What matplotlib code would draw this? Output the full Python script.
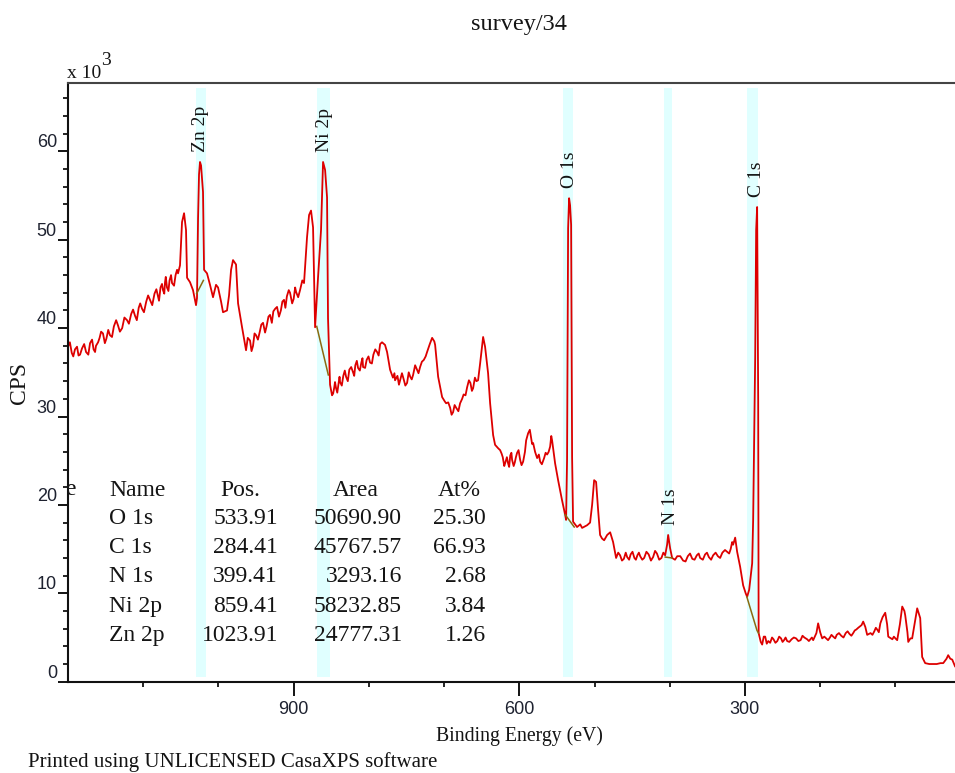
import matplotlib
matplotlib.use("Agg")
import matplotlib.pyplot as plt
from matplotlib.ticker import FixedLocator, MultipleLocator
import numpy as np

W, H = 955, 773

# ---------------- data ----------------
binding_energy = [
    1200, 1195, 1190.7, 1186, 1181.4, 1176, 1170.7, 1166, 1162.8, 1158, 1153.5, 1149, 1144.2, 1139,
    1133.5, 1128, 1121.5, 1116, 1110.9, 1106, 1101.6, 1096, 1091.0, 1085, 1080.3, 1077, 1073.7, 1071,
    1068.4, 1065, 1061.7, 1057, 1053.7, 1051.1, 1048.4, 1045.7, 1043.1, 1041.7, 1037.8, 1033.8, 1029.8,
    1028.5, 1027.1, 1025.8, 1024.5, 1023.1, 1020.5, 1019.1, 1015.2, 1011.2, 1007.2, 1003.2, 1000.5,
    996.5, 993.9, 988.6, 985.9, 983.2, 980.6, 976.6, 973.9, 968.6, 963.3, 958.0, 954, 950.0, 945,
    940.7, 936, 931.4, 927, 922.1, 917, 912.8, 909, 904.8, 900, 896.8, 891.5, 886.2, 882.2, 879.5,
    876.9, 874.2, 871.5, 867.6, 863.6, 860.9, 858.2, 855.6, 854.3, 851.6, 849.0, 846, 843.6, 840,
    838.3, 834, 830.3, 826, 821.0, 818, 814.4, 810, 807.7, 803, 798.4, 794, 789.1, 785, 782.5, 778.5,
    775.8, 771.8, 768, 765.2, 762, 758.5, 754, 749.2, 745, 741.2, 736, 731.9, 727, 722.6, 719, 715.9,
    713, 711.9, 707.9, 702.6, 699, 697.3, 692.0, 688.0, 684, 678.7, 674, 669.4, 665, 661.4, 657,
    654.8, 652.1, 648.1, 645.5, 641.5, 638.8, 634.8, 632.2, 628, 625.5, 622, 618.9, 614.9, 612,
    609.6, 606, 602.9, 598.9, 594.9, 590.9, 588.3, 584.3, 581.6, 576.3, 572.3, 567.0, 563.0, 559.0,
    556.4, 552.4, 548.4, 543.1, 539.1, 537.8, 536.5, 535.1, 533.8, 532.5, 531.1, 529.8, 528.5, 523.2,
    519, 516.5, 512, 509.9, 505.9, 503.2, 500.5, 497.9, 495.2, 492.6, 490, 487.2, 483.2, 479.2,
    475.3, 471.3, 466, 461, 456.6, 452, 447, 443, 439.3, 434, 428, 422.1, 417, 411, 406.1, 403.5,
    402.1, 399.5, 396.8, 390, 382.2, 376, 370, 364, 359.6, 353, 348, 342.3, 336, 330, 323.7, 319,
    315.7, 313.0, 310.4, 306.4, 302.4, 299, 297.1, 294.4, 290.4, 289.1, 286.4, 285.1, 283.8, 282.4,
    281.8, 279, 277.1, 275, 273.1, 269, 266.5, 262, 257, 252, 248, 243.9, 238, 232, 226, 221, 217.3,
    213, 209.3, 205, 202.7, 200, 197.3, 192, 187, 182.7, 178, 172, 166, 161, 156.1, 152, 149.4, 145,
    142.8, 140, 137.5, 133, 128, 124.2, 120, 117, 113.5, 111, 109.5, 104, 100, 97.6, 94, 90.9, 88,
    86.9, 84, 82.9, 80, 77.7, 74, 71.0, 68.5, 67.0, 64.4, 60.4, 55, 49.7, 45, 40, 36.4, 32, 29.8,
    27, 24.4, 20.5, 15, 11.2, 5, 0,
]
cps_k = [
    37.9, 37.2, 37.6, 36.9, 37.7, 37.3, 38.3, 37.6, 38.0, 38.9, 39.4, 38.8, 39.2, 40.2,
    40.3, 40.0, 40.9, 41.6, 41.4, 42.3, 42.2, 43.0, 43.2, 43.9, 43.6, 44.6, 44.3, 45.2,
    44.6, 45.4, 45.1, 46.0, 46.2, 47.1, 52.0, 53.0, 51.1, 45.7, 45.2, 44.3, 42.6,
    43.4, 52.4, 57.4, 58.8, 58.4, 55.4, 46.6, 46.2, 44.9, 43.5, 44.9, 44.6,
    43.0, 41.8, 42.0, 43.7, 46.6, 47.7, 47.2, 42.8, 40.1, 37.5, 38.6, 38.0, 39.2, 39.6,
    40.6, 40.2, 41.5, 41.9, 42.4, 42.0, 43.2, 43.6, 44.0, 43.3, 44.1, 44.3, 45.1, 50.3, 52.8,
    53.3, 51.4, 40.1, 45.7, 51.1, 58.8, 57.9, 54.8, 41.1, 33.6, 32.4, 33.3, 33.2, 33.9,
    33.9, 34.6, 34.5, 35.3, 35.0, 35.8, 35.5, 36.1, 35.6, 36.4, 36.1, 37.0, 37.3, 38.2, 38.4, 38.1,
    37.3, 35.3, 34.4, 34.1, 34.6, 34.1, 34.3, 33.8, 34.5, 34.7, 35.3, 35.6, 36.4, 37.3, 38.2, 38.9,
    38.5, 38.1, 34.5, 32.2, 31.7, 31.5, 31.0, 30.5, 31.0, 31.5, 32.5, 33.3, 33.8, 33.2, 34.0,
    34.1, 36.0, 39.0, 37.9, 34.9, 31.5, 27.9, 26.8, 26.4, 26.2, 25.4, 24.7, 24.7, 25.6,
    25.1, 24.8, 25.9, 25.1, 24.9, 27.3, 28.1, 27.6, 27.0, 25.3, 24.9, 25.3, 25.7, 26.6,
    27.3, 24.7, 22.8, 20.5, 18.9, 18.3, 25.1, 51.3, 54.7, 53.9, 51.7, 25.4, 18.1, 17.5,
    17.8, 17.4, 17.6, 17.7, 18.0, 20.0, 22.8, 22.6, 19.4, 16.6, 16.2, 16.0, 16.6, 16.9,
    15.8, 14.0, 14.3, 13.9, 14.1, 14.4, 14.0, 14.3, 14.2, 14.0, 14.4, 14.1, 14.5, 14.0, 14.3, 15.5,
    16.6, 15.1, 14.0, 14.2, 13.7, 14.2, 13.9, 14.3, 14.0, 14.4, 14.1, 14.3, 14.2, 14.6, 14.7, 15.0,
    15.5, 16.3, 14.7, 13.0, 10.9, 10.0, 9.6, 10.4, 13.4, 18.3, 36.6, 51.1, 53.7, 31.9,
    5.5, 4.5, 4.2, 5.1, 5.1, 4.6, 4.4, 4.8, 4.6, 4.9, 4.7, 4.6, 4.8, 4.9, 4.7, 5.0, 4.8,
    4.8, 4.7, 5.5, 6.6, 5.6, 4.9, 4.9, 5.0, 5.1, 5.3, 5.2, 5.5, 5.4, 5.5, 5.9, 6.1, 6.4,
    6.8, 6.2, 5.3, 5.5, 5.7, 5.9, 6.6, 7.3, 7.8, 6.5, 5.1, 4.8, 4.9, 4.7, 6.5, 8.5, 8.0,
    7.5, 5.6, 4.5, 4.9, 4.9, 6.8, 8.3, 7.6, 7.2, 2.8, 2.1, 2.0, 2.0, 2.0, 2.1, 2.1, 2.6, 3.0,
    2.6, 2.5, 1.7, 1.8, 1.8, 1.8, 1.8,
]

detail_be = [
    1197.5, 1193, 1188, 1184, 1178.5, 1173, 1168, 1164, 1160, 1156, 1151, 1146.5, 1141.5, 1136,
    1131, 1125, 1119, 1113.5, 1108.5, 1104, 1099, 1093.5, 1088, 1082.5, 1079, 1075, 1072, 1070,
    1066.5, 1063, 1059, 1055,
    961, 956, 952, 947.5, 943, 938, 933.5, 929, 924.5, 919.5, 915, 911, 906.5, 902, 898, 894, 888.5,
    847.5, 845, 842, 839, 836, 832, 828, 823.5, 819.5, 816, 812, 808.5, 805, 800.5, 796, 791.5, 787,
    766, 760, 756, 751.5, 747, 743, 738.5, 734, 729.5, 724.5,
    694.5, 690, 686, 681, 676, 671.5, 667, 663, 659,
    623.5, 620, 616.5, 613.5, 610.5, 607.5, 604.5, 601, 597, 592.5, 586, 583, 579, 574, 570, 565,
    561, 557.5,
    468.5, 463.5, 458.5, 454, 449.5, 445, 441, 436.5, 431, 425, 419.5, 414, 408.5, 393, 386, 379,
    373, 367, 361.5, 356, 350.5, 345, 339, 333, 326.5, 321, 317,
    271, 264, 259.5, 254.5, 250, 246, 241, 235, 229, 223.5, 215, 211, 194.5, 189.5, 185, 180, 175,
    169, 163.5, 158.5, 154, 130.5, 126, 122, 102,
]
detail_cps_k = [
    38.4, 36.8, 37.9, 37.0, 38.2, 37.0, 38.7, 37.3, 38.4, 39.6, 38.3, 39.8, 39.0, 40.9,
    39.6, 41.2, 40.5, 42.1, 40.9, 42.8, 41.8, 43.7, 42.6, 44.4, 43.1, 45.0, 43.9, 45.8,
    44.2, 46.0, 44.8, 46.6,
    38.9, 37.4, 39.4, 38.7, 40.4, 39.5, 41.3, 40.6, 42.2, 41.3, 43.0, 42.3, 44.3, 42.8, 44.6, 43.5, 45.4,
    32.6, 33.9, 32.7, 34.5, 33.5, 35.2, 34.0, 35.6, 34.6, 36.3, 35.2, 36.6, 35.5, 36.8, 36.0, 37.6, 36.9,
    34.9, 33.6, 34.9, 33.5, 35.0, 34.2, 35.8, 34.9, 36.2, 36.8,
    31.6, 30.2, 31.3, 30.6, 32.0, 32.4, 34.1, 32.9, 34.4,
    25.8, 24.4, 25.4, 24.3, 25.9, 24.4, 25.4, 26.2, 24.5, 26.0, 28.5, 26.9, 26.0, 25.7, 24.6, 25.9,
    26.0, 27.8,
    14.6, 13.7, 14.6, 13.8, 14.7, 13.8, 14.6, 13.8, 14.7, 13.7, 14.8, 13.8, 14.6, 13.8, 14.2, 13.6,
    14.5, 13.8, 14.5, 13.8, 14.6, 13.8, 14.6, 14.0, 14.9, 14.5, 15.8,
    4.3, 5.0, 4.4, 5.1, 4.5, 5.0, 4.5, 5.0, 4.6, 5.2, 4.6, 5.0, 5.1, 4.7, 5.3, 4.9, 5.5,
    5.0, 5.7, 5.2, 5.8, 5.3, 6.1, 5.6, 5.1,
]

# quantification regions (cyan bands) and their backgrounds
peak_names = ["Zn 2p", "Ni 2p", "O 1s", "N 1s", "C 1s"]
region_hi = [1030.2, 869.3, 541.3, 407.4, 297.5]
region_lo = [1016.9, 851.6, 528.0, 396.4, 282.0]
bg_be = [[1029.0, 1020.0], [869.3, 853.9], [539.0, 527.0], [406.0, 397.0], [297.5, 284.0, 282.0]]
bg_cps_k = [[43.9, 45.4], [40.2, 34.7], [18.9, 17.5], [14.1, 14.0], [9.6, 5.8, 5.5]]

# table
tbl_names = ["O 1s", "C 1s", "N 1s", "Ni 2p", "Zn 2p"]
tbl_pos = [533.91, 284.41, 399.41, 859.41, 1023.91]
tbl_area = [50690.90, 45767.57, 3293.16, 58232.85, 24777.31]
tbl_at = [25.30, 66.93, 2.68, 3.84, 1.26]

major_x = [900, 600, 300]
minor_x = [1100, 1000, 800, 700, 500, 400, 200, 100]

# ---------------- figure ----------------
SERIF = ["Liberation Serif", "DejaVu Serif"]
SANS = ["Liberation Sans", "DejaVu Sans"]
INK = "#141414"

fig = plt.figure(figsize=(W / 100, H / 100), dpi=100)
fig.patch.set_facecolor("white")

def px(x, y):
    return x / W, 1 - y / H

ax_left, ax_right, ax_top, ax_bot = 68, 970.6, 83.3, 681.7
ax = fig.add_axes([ax_left / W, 1 - ax_bot / H, (ax_right - ax_left) / W, (ax_bot - ax_top) / H])
ax.set_xlim(1200, 0)
ax.set_ylim(0, 67.7)

for hi, lo in zip(region_hi, region_lo):
    ax.axvspan(hi, lo, ymin=0.008, ymax=0.992, color="#e0ffff", lw=0, zorder=0)

all_be = np.array(binding_energy + detail_be, dtype=float)
all_cps = np.array(cps_k + detail_cps_k, dtype=float)
order = np.argsort(-all_be, kind="stable")
ax.plot(all_be[order], all_cps[order], color="#dd0000", lw=1.3, zorder=2)
for xs, ys in zip(bg_be, bg_cps_k):
    ax.plot(xs, ys, color="#8a6a10", lw=1.1, zorder=3)

# peak labels above the peak maximum inside each region
be_arr = np.array(binding_energy)
cps_arr = np.array(cps_k)
for name, hi, lo in zip(peak_names, region_hi, region_lo):
    pos = tbl_pos[tbl_names.index(name)]
    m = (be_arr <= hi) & (be_arr >= lo)
    top = cps_arr[m].max()
    ax.text(pos, top + 1.1, name, rotation=90, ha="center", va="bottom",
            family=SERIF, fontsize=14, color=INK, zorder=4)

# ticks
ax.xaxis.set_major_locator(FixedLocator(major_x))
ax.xaxis.set_minor_locator(FixedLocator(minor_x))
ax.yaxis.set_major_locator(MultipleLocator(10))
ax.yaxis.set_minor_locator(MultipleLocator(2))
ax.tick_params(axis="x", which="major", direction="out", length=10, width=1.3, pad=4,
               labelsize=13, labelcolor="#1e2230")
ax.tick_params(axis="x", which="minor", direction="out", length=3.8, width=1.2)
ax.tick_params(axis="y", which="major", direction="out", length=7, width=1.3, pad=1,
               labelsize=13, labelcolor="#1e2230")
ax.tick_params(axis="y", which="minor", direction="out", length=3.8, width=1.2)
ax.set_xticklabels([str(v) for v in major_x], family=SANS)
ax.set_yticks(np.arange(0, 61, 10))
ax.set_yticklabels([str(v) for v in range(0, 61, 10)], family=SANS)
for lab in ax.get_yticklabels():
    lab.set_va("bottom")

for s in ["left", "bottom"]:
    ax.spines[s].set_linewidth(1.5)
    ax.spines[s].set_color("#111111")
ax.spines["top"].set_linewidth(1.5)
ax.spines["top"].set_color("#444444")
ax.spines["right"].set_color("#444444")

# clipped leftover letter at the table's left edge (partly hidden by the axis)
ax.text(1203.5, 21.1, "e", ha="left", va="baseline", family=SERIF, fontsize=17,
        color=INK, clip_on=True)

# table text
FS_T = 17
col_name_x = 109
col_pos_end, col_area_end, col_at_end = 278, 402, 486
hdr_y = 496
row_y = [524, 553, 582, 612, 641]
fig.text(*px(col_name_x, hdr_y), "Name", ha="left", va="baseline", family=SERIF, fontsize=FS_T, color=INK)
fig.text(*px(240, hdr_y), "Pos.", ha="center", va="baseline", family=SERIF, fontsize=FS_T, color=INK)
fig.text(*px(356, hdr_y), "Area", ha="center", va="baseline", family=SERIF, fontsize=FS_T, color=INK)
fig.text(*px(459, hdr_y), "At%", ha="center", va="baseline", family=SERIF, fontsize=FS_T, color=INK)
for y, n, p, a, t in zip(row_y, tbl_names, tbl_pos, tbl_area, tbl_at):
    fig.text(*px(col_name_x, y), n, ha="left", va="baseline", family=SERIF, fontsize=FS_T, color=INK)
    fig.text(*px(col_pos_end, y), f"{p:.2f}", ha="right", va="baseline", family=SERIF, fontsize=FS_T, color=INK)
    fig.text(*px(col_area_end, y), f"{a:.2f}", ha="right", va="baseline", family=SERIF, fontsize=FS_T, color=INK)
    fig.text(*px(col_at_end, y), f"{t:.2f}", ha="right", va="baseline", family=SERIF, fontsize=FS_T, color=INK)

# titles and labels
fig.text(*px(519, 30), "survey/34", ha="center", va="baseline", family=SERIF, fontsize=17.5, color=INK)
fig.text(*px(67, 78), "x 10", ha="left", va="baseline", family=SERIF, fontsize=14, color=INK)
fig.text(*px(101, 65), "3", ha="left", va="baseline", family=SERIF, fontsize=14, color=INK)
fig.text(*px(20, 383), "CPS", ha="center", va="center", rotation=90, family=SERIF, fontsize=17, color=INK)
fig.text(*px(519, 741), "Binding Energy (eV)", ha="center", va="baseline", family=SERIF, fontsize=14.2, color=INK)
fig.text(*px(28, 767), "Printed using UNLICENSED CasaXPS software", ha="left", va="baseline",
         family=SERIF, fontsize=15, color=INK)

fig.savefig("out.png", dpi=100)
